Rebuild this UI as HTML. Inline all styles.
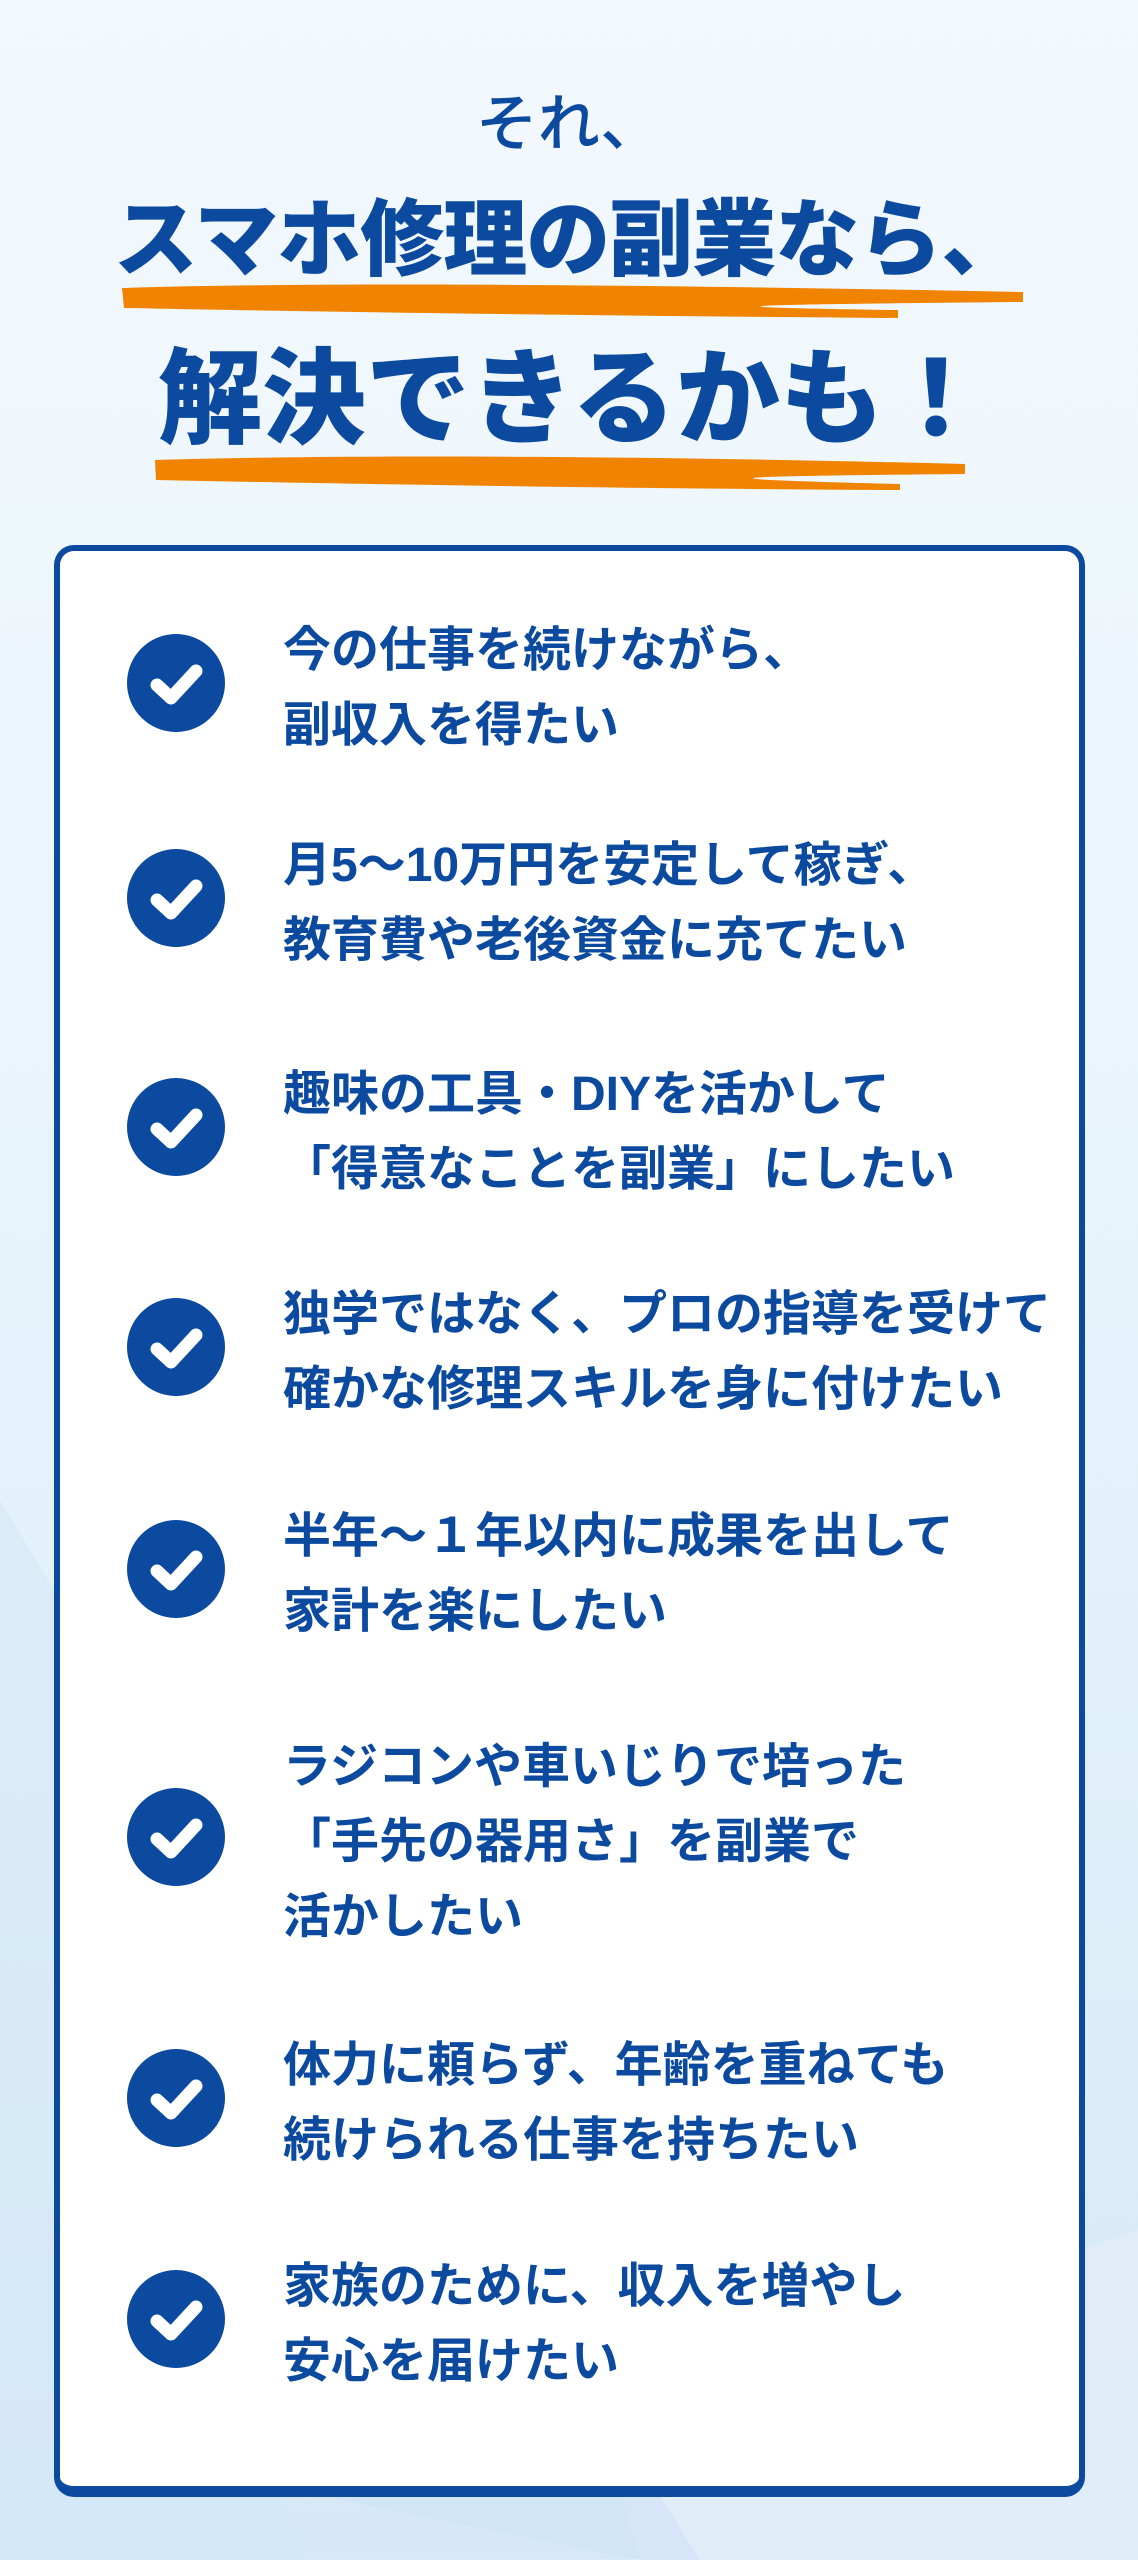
<!DOCTYPE html>
<html><head><meta charset="utf-8"><style>
html,body{margin:0;padding:0}
body{width:1138px;height:2560px;position:relative;overflow:hidden;
background:linear-gradient(180deg,#f3f9fd 0%,#eaf5fc 40%,#dcedf9 80%,#d6e8f7 100%);
font-family:"Liberation Sans","Noto Sans CJK JP",sans-serif;color:#0b4a9f}
.h{position:absolute;left:0;width:1138px;text-align:center;font-weight:900;white-space:nowrap}
.box{position:absolute;left:54px;top:545px;width:1019px;height:1935px;background:#fff;border:6px solid #0b4a9f;border-bottom-width:11px;border-radius:20px}
.ck{position:absolute;left:127px;width:98px;height:98px;border-radius:50%;background:#0b4a9f}
.ck svg{position:absolute;left:0;top:0}
.t{position:absolute;left:283px;font-size:48px;font-weight:700;line-height:75px;white-space:nowrap;transform:translateY(-50%);margin-top:5px}
</style></head><body>
<svg style="position:absolute;left:0;top:0" width="1138" height="2560">
<polygon points="0,1500 0,2560 300,2560 60,1600" fill="#d3e8f7" opacity=".5"/>
<polygon points="640,2560 1138,2560 1138,2230 600,2420" fill="#e4ecf9" opacity=".8"/>
<polygon points="240,2480 640,2560 700,2560 650,2480" fill="#cfe3f6" opacity=".6"/>
</svg>
<div class="h" style="top:80px;font-size:62px;font-weight:500;line-height:90px">それ、</div>
<svg style="position:absolute;left:118px;top:280px" width="910" height="44"><path d="M4,8 C200,2 500,4 905,12 L905,22 C700,24 500,26 780,30 L780,38 C500,36 200,32 6,28 Z" fill="#f08300"/></svg>
<div class="h" style="top:190px;font-size:84px;line-height:100px;letter-spacing:-1px">スマホ修理の副業なら、</div>
<svg style="position:absolute;left:150px;top:452px" width="820" height="44"><path d="M5,8 C200,2 500,4 815,12 L815,22 C600,24 500,26 750,32 L750,38 C500,37 200,32 6,28 Z" fill="#f08300"/></svg>
<div class="h" style="top:340px;font-size:104px;line-height:120px;padding-left:4px">解決できるかも！</div>
<div class="box"></div>

<div class="ck" style="top:634px"><svg width="98" height="98"><path d="M30,51 L44,64 L69,37" stroke="#fff" stroke-width="13" fill="none" stroke-linecap="round" stroke-linejoin="round"/></svg></div>
<div class="t" style="top:683px">今の仕事を続けながら、<br>副収入を得たい</div>

<div class="ck" style="top:849px"><svg width="98" height="98"><path d="M30,51 L44,64 L69,37" stroke="#fff" stroke-width="13" fill="none" stroke-linecap="round" stroke-linejoin="round"/></svg></div>
<div class="t" style="top:898px">月5～10万円を安定して稼ぎ、<br>教育費や老後資金に充てたい</div>

<div class="ck" style="top:1078px"><svg width="98" height="98"><path d="M30,51 L44,64 L69,37" stroke="#fff" stroke-width="13" fill="none" stroke-linecap="round" stroke-linejoin="round"/></svg></div>
<div class="t" style="top:1127px">趣味の工具・DIYを活かして<br>「得意なことを副業」にしたい</div>

<div class="ck" style="top:1298px"><svg width="98" height="98"><path d="M30,51 L44,64 L69,37" stroke="#fff" stroke-width="13" fill="none" stroke-linecap="round" stroke-linejoin="round"/></svg></div>
<div class="t" style="top:1347px">独学ではなく、プロの指導を受けて<br>確かな修理スキルを身に付けたい</div>

<div class="ck" style="top:1520px"><svg width="98" height="98"><path d="M30,51 L44,64 L69,37" stroke="#fff" stroke-width="13" fill="none" stroke-linecap="round" stroke-linejoin="round"/></svg></div>
<div class="t" style="top:1569px">半年～１年以内に成果を出して<br>家計を楽にしたい</div>

<div class="ck" style="top:1788px"><svg width="98" height="98"><path d="M30,51 L44,64 L69,37" stroke="#fff" stroke-width="13" fill="none" stroke-linecap="round" stroke-linejoin="round"/></svg></div>
<div class="t" style="top:1837px">ラジコンや車いじりで培った<br>「手先の器用さ」を副業で<br>活かしたい</div>

<div class="ck" style="top:2049px"><svg width="98" height="98"><path d="M30,51 L44,64 L69,37" stroke="#fff" stroke-width="13" fill="none" stroke-linecap="round" stroke-linejoin="round"/></svg></div>
<div class="t" style="top:2098px">体力に頼らず、年齢を重ねても<br>続けられる仕事を持ちたい</div>

<div class="ck" style="top:2270px"><svg width="98" height="98"><path d="M30,51 L44,64 L69,37" stroke="#fff" stroke-width="13" fill="none" stroke-linecap="round" stroke-linejoin="round"/></svg></div>
<div class="t" style="top:2319px">家族のために、収入を増やし<br>安心を届けたい</div>
</body></html>
